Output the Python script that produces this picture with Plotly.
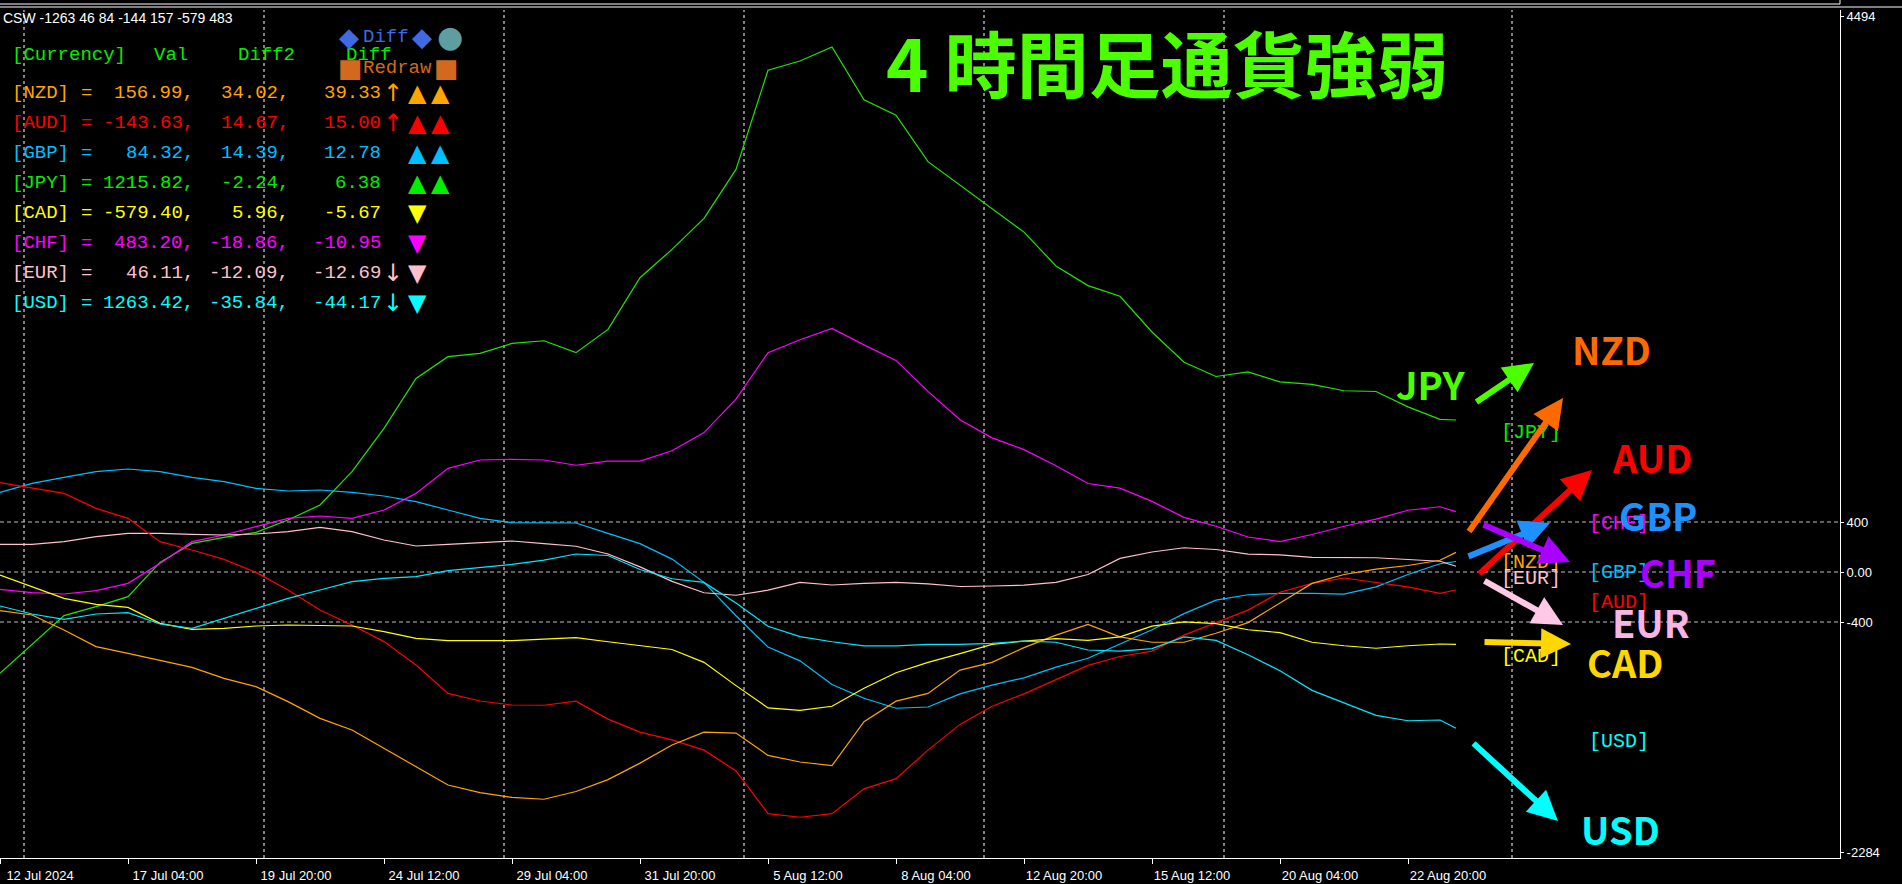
import plotly.graph_objects as go

# ---------------- data ----------------
BARS = list(range(0, 181, 4)) + [182]   # H4 bar index of each sample

JPY = [-811, -576, -349, -277, -197, 77, 229, 277, 317, 416, 536, 803, 1149, 1549, 1723, 1749,
       1829, 1850, 1755, 1941, 2354, 2581, 2829, 3221, 4014, 4088, 4200, 3778, 3655, 3283, 3097,
       2911, 2719, 2448, 2291, 2206, 1920, 1678, 1564, 1601, 1521, 1501, 1450, 1444, 1321, 1221, 1216]
CHF = [-139, -165, -176, -149, -91, 69, 243, 296, 363, 429, 448, 429, 496, 629, 829, 896,
       901, 896, 854, 887, 887, 970, 1115, 1383, 1755, 1858, 1949, 1817, 1693, 1445, 1218,
       1073, 979, 850, 708, 671, 565, 437, 366, 280, 243, 300, 366, 423, 494, 522, 483]
GBP = [637, 709, 757, 803, 824, 803, 757, 723, 669, 648, 656, 637, 608, 563, 496, 429,
       395, 392, 392, 309, 227, 103, -83, -350, -600, -711, -900, -1010, -1090, -1080, -975,
       -905, -847, -761, -690, -576, -462, -333, -225, -182, -171, -171, -177, -119, -20, 66, 84]
EUR = [221, 221, 243, 283, 309, 309, 301, 296, 304, 323, 357, 323, 256, 208, 221, 237,
       248, 227, 206, 144, 41, -75, -166, -186, -145, -83, -104, -91, -83, -95, -116,
       -112, -105, -83, -20, 109, 160, 194, 180, 143, 137, 117, 114, 114, 100, 86, 46]
AUD = [715, 669, 629, 509, 429, 243, 176, 101, -3, -144, -304, -424, -557, -744, -971, -1032,
       -1064, -1066, -1033, -1177, -1281, -1343, -1425, -1591, -1933, -1962, -1933, -1735, -1653,
       -1425, -1219, -1074, -975, -861, -747, -676, -633, -505, -405, -305, -162, -91, -48, -83,
       -119, -171, -144]
NZD = [-309, -344, -464, -597, -651, -704, -763, -851, -917, -1037, -1171, -1264, -1411, -1557,
       -1704, -1765, -1803, -1818, -1756, -1661, -1529, -1384, -1281, -1289, -1467, -1520, -1549,
       -1198, -1033, -971, -785, -723, -605, -505, -419, -519, -562, -562, -490, -405, -248, -91,
       -20, 23, 52, 94, 157]
CAD = [-24, -117, -211, -259, -283, -411, -459, -451, -432, -424, -429, -432, -477, -531, -549,
       -549, -549, -537, -525, -558, -587, -620, -723, -909, -1087, -1107, -1074, -930, -806, -723,
       -653, -579, -553, -533, -547, -519, -433, -399, -413, -462, -485, -562, -590, -610, -590,
       -576, -579]
USD = [-272, -336, -379, -336, -325, -416, -451, -371, -291, -211, -144, -77, -51, -37, 11, 37,
       61, 95, 144, 132, 20, -54, -83, -248, -434, -517, -558, -591, -591, -579, -579, -571,
       -553, -562, -624, -633, -613, -519, -547, -662, -790, -947, -1047, -1147, -1190, -1184, -1250]

TICK_IDX = [0, 16, 32, 48, 64, 80, 96, 112, 128, 144, 160, 176]
TICK_TEXT = ["12 Jul 2024", "17 Jul 04:00", "19 Jul 20:00", "24 Jul 12:00", "29 Jul 04:00",
             "31 Jul 20:00", "5 Aug 12:00", "8 Aug 04:00", "12 Aug 20:00", "15 Aug 12:00",
             "20 Aug 04:00", "22 Aug 20:00"]
WEEK_SEP = [3, 33, 63, 93, 123, 153, 189]
LEVELS = [400, 0, -400]
Y_TICKS = [4448, 400, 0, -400, -2240]
Y_TEXT = ["4494", "400", "0.00", "-400", "-2284"]

# panel
CUR = ["NZD", "AUD", "GBP", "JPY", "CAD", "CHF", "EUR", "USD"]
VAL = ["156.99,", "-143.63,", "84.32,", "1215.82,", "-579.40,", "483.20,", "46.11,", "1263.42,"]
DIFF2 = ["34.02,", "14.67,", "14.39,", "-2.24,", "5.96,", "-18.86,", "-12.09,", "-35.84,"]
DIFF = ["39.33", "15.00", "12.78", "6.38", "-5.67", "-10.95", "-12.69", "-44.17"]
ARROW = ["↑", "↑", "", "", "", "", "↓", "↓"]
MARKS = [("▲", "▲"), ("▲", "▲"), ("▲", "▲"), ("▲", "▲"), ("▼",), ("▼",), ("▼",), ("▼",)]
PANEL_COL = {"NZD": "#FFA500", "AUD": "#FF0000", "GBP": "#00BFFF", "JPY": "#00EE00",
             "CAD": "#FFFF00", "CHF": "#FF00FF", "EUR": "#FFC0CB", "USD": "#00FFFF"}
LINE_COL = {"NZD": "#FFA500", "AUD": "#FF0000", "GBP": "#00BFFF", "JPY": "#22E600",
            "CAD": "#FFFF00", "CHF": "#FF00FF", "EUR": "#FFC0CB", "USD": "#00E8FF"}
SERIES = {"JPY": JPY, "CHF": CHF, "GBP": GBP, "EUR": EUR, "AUD": AUD, "NZD": NZD, "CAD": CAD, "USD": USD}

BIG_COL = {"JPY": "#4CFF00", "NZD": "#FF6A00", "AUD": "#FF0000", "GBP": "#1E90FF",
           "CHF": "#AA00FF", "EUR": "#F7B5E6", "CAD": "#FFD700", "USD": "#00FFFF"}
ARROW_COL = {"JPY": "#4CFF00", "NZD": "#FF6A00", "AUD": "#FF0000", "GBP": "#1E90FF",
             "CHF": "#AA00FF", "EUR": "#FFC8E6", "CAD": "#FFD700", "USD": "#00FFFF"}

# ---------------- layout helpers (pixel -> paper) ----------------
W, H = 1902, 884
PL, PR, PT, PB = 0, 1840, 10, 858


def px(x):
    return (x - PL) / (PR - PL)


def py(y):
    return (PB - y) / (PB - PT)


fig = go.Figure()
for name, vals in SERIES.items():
    fig.add_trace(go.Scatter(x=BARS, y=vals, mode="lines", name=name,
                             line=dict(color=LINE_COL[name], width=1.2),
                             hoverinfo="skip", showlegend=False))

shapes = []
for b in WEEK_SEP:
    shapes.append(dict(type="line", xref="x", yref="paper", x0=b, x1=b, y0=0, y1=1,
                       line=dict(color="white", width=1, dash="3px,3px"), layer="below"))
for lv in LEVELS:
    shapes.append(dict(type="line", xref="paper", yref="y", x0=0, x1=1, y0=lv, y1=lv,
                       line=dict(color="#BEBEBE", width=1, dash="4px,3px"), layer="below"))
shapes.append(dict(type="line", xref="paper", yref="paper", x0=0, x1=px(1840), y0=py(4), y1=py(4),
                   line=dict(color="white", width=1)))
shapes.append(dict(type="line", xref="paper", yref="paper", x0=0, x1=px(1902), y0=py(7), y1=py(7),
                   line=dict(color="white", width=1)))
shapes.append(dict(type="line", xref="paper", yref="paper", x0=px(1840), x1=px(1840), y0=py(0), y1=py(4),
                   line=dict(color="white", width=1)))

ann = []


def txt(x, y, s, color, size, family, xa="left", ya="middle", bold=False):
    ann.append(dict(x=px(x), y=py(y), xref="paper", yref="paper", text=("<b>%s</b>" % s) if bold else s,
                    showarrow=False, xanchor=xa, yanchor=ya, borderpad=0,
                    font=dict(color=color, size=size, family=family)))


MONO = "Liberation Mono, DejaVu Sans Mono, monospace"
SYM = "DejaVu Sans"
FS = 19

txt(2, 18, "CSW -1263 46 84 -144 157 -579 483", "white", 14, "Liberation Sans")

# header
txt(11, 55, "[Currency]", "#00EE00", FS, MONO)
txt(153, 55, "Val", "#00EE00", FS, MONO)
txt(237, 55, "Diff2", "#00EE00", FS, MONO)
txt(345, 55, "Diff", "#00EE00", FS, MONO)
txt(349, 37, "◆", "#4169E1", 26, SYM, xa="center")
txt(362, 37, "Diff", "#4169E1", FS, MONO)
txt(422, 37, "◆", "#4169E1", 26, SYM, xa="center")
txt(450, 37, "●", "#5F9EA0", 30, SYM, xa="center")
txt(350, 68, "■", "#D2691E", 26, SYM, xa="center")
txt(362, 68, "Redraw", "#D2691E", FS, MONO)
txt(446, 68, "■", "#D2691E", 26, SYM, xa="center")

for i, c in enumerate(CUR):
    yy = 93 + 30 * i
    col = PANEL_COL[c]
    txt(11, yy, "[%s]" % c, col, FS, MONO)
    txt(86, yy, "=", col, FS, MONO, xa="center")
    txt(195, yy, VAL[i], col, FS, MONO, xa="right")
    txt(290, yy, DIFF2[i], col, FS, MONO, xa="right")
    txt(382, yy, DIFF[i], col, FS, MONO, xa="right")
    if ARROW[i]:
        txt(393, yy, ARROW[i], col, 24, SYM, xa="center")
    for k, m in enumerate(MARKS[i]):
        txt(417 + 23 * k, yy, m, col, 24, SYM, xa="center")

# title
txt(885, 60, "4 時間足通貨強弱", "#4CFF00", 72, "Noto Sans CJK JP", bold=True)

# big currency labels
BIG_POS = {"JPY": (1430, 383), "NZD": (1611, 348), "AUD": (1652, 457), "GBP": (1658, 514),
           "CHF": (1678, 571), "EUR": (1651, 621), "CAD": (1625, 661), "USD": (1620, 828)}
# bracket labels
BR_POS = {"JPY": (1500, 432), "NZD": (1500, 563), "EUR": (1500, 578), "CAD": (1500, 656),
          "CHF": (1588, 523), "GBP": (1588, 572), "AUD": (1588, 602), "USD": (1588, 741)}
for c, (x, y) in BR_POS.items():
    txt(x, y, "[%s]" % c, PANEL_COL[c], 20, MONO)

# arrows: tail -> tip (pixels)
ARROWS = {"JPY": ((1475, 403), (1534, 363)), "NZD": ((1468, 533), (1563, 398)),
          "AUD": ((1478, 575), (1592, 470)), "GBP": ((1467, 557), (1550, 523)),
          "CHF": ((1482, 524), (1570, 562)), "EUR": ((1483, 580), (1563, 625)),
          "CAD": ((1483, 642), (1571, 644)), "USD": ((1472, 742), (1558, 821))}
for c, ((tx, ty), (hx, hy)) in ARROWS.items():
    ann.append(dict(x=px(hx), y=py(hy), xref="paper", yref="paper", ax=tx - hx, ay=ty - hy,
                    axref="pixel", ayref="pixel", text="", showarrow=True, arrowhead=2,
                    arrowsize=1, arrowwidth=6, arrowcolor=ARROW_COL[c]))

for c, (x, y) in BIG_POS.items():
    txt(x, y, c, BIG_COL[c], 38, "Noto Sans CJK JP", xa="center", bold=True)

fig.update_layout(
    width=W, height=H,
    margin=dict(l=PL, r=W - PR, t=PT, b=H - PB, pad=0),
    paper_bgcolor="black", plot_bgcolor="black", showlegend=False,
    xaxis=dict(range=[0, 230], tickmode="array", tickvals=TICK_IDX, ticktext=TICK_TEXT,
               ticks="outside", ticklen=5, tickcolor="white", showline=True, linecolor="white",
               linewidth=1, showgrid=False, zeroline=False, ticklabelshift=40, ticklabelstandoff=0,
               tickfont=dict(family="Liberation Sans", size=13, color="white")),
    yaxis=dict(range=[-2288, 4496], side="right", tickmode="array", tickvals=Y_TICKS, ticktext=Y_TEXT,
               ticks="outside", ticklen=3, tickcolor="white", showline=True, linecolor="white",
               linewidth=1, showgrid=False, zeroline=False,
               tickfont=dict(family="Liberation Sans", size=13, color="white")),
    shapes=shapes, annotations=ann,
)

fig.write_html("out.html", config={"displayModeBar": False},
               post_script="document.body.style.margin='0';document.body.style.background='black';"
                           "document.body.style.overflow='hidden';")
